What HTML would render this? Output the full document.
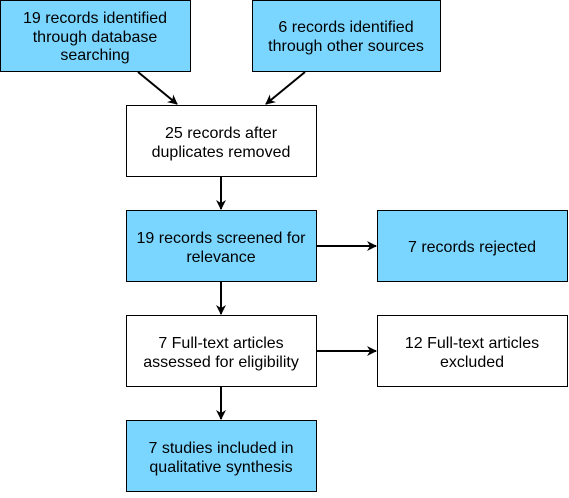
<!DOCTYPE html>
<html><head><style>
body{margin:0;width:569px;height:493px;background:#fff;overflow:hidden}
svg text{font-family:"Liberation Sans",Arial,sans-serif;font-size:16px;fill:#000;text-anchor:middle}
</style></head><body>
<svg width="569" height="493" xmlns="http://www.w3.org/2000/svg">
<defs><marker id="a" markerWidth="10" markerHeight="10" refX="9" refY="5" orient="auto" markerUnits="userSpaceOnUse"><path d="M0,0 L10,5 L0,10 L3,5 z" fill="#000"/></marker></defs>
<g stroke="#000" stroke-width="1">
<rect x="0.5" y="0.5" width="190" height="71" fill="#7ad5ff"/>
<rect x="252.5" y="0.5" width="188" height="71" fill="#7ad5ff"/>
<rect x="126.5" y="105.5" width="190" height="71" fill="#fff"/>
<rect x="126.5" y="210.5" width="190" height="71" fill="#7ad5ff"/>
<rect x="377.5" y="210.5" width="190" height="71" fill="#7ad5ff"/>
<rect x="126.5" y="315.5" width="190" height="71" fill="#fff"/>
<rect x="377.5" y="315.5" width="190" height="71" fill="#fff"/>
<rect x="126.5" y="420.5" width="190" height="71" fill="#7ad5ff"/>
</g>
<g stroke="#000" stroke-width="2" marker-end="url(#a)">
<line x1="138" y1="72" x2="177" y2="104"/>
<line x1="305" y1="72" x2="266" y2="104"/>
<line x1="221" y1="177" x2="221" y2="209"/>
<line x1="221" y1="282" x2="221" y2="314"/>
<line x1="221" y1="387" x2="221" y2="419"/>
<line x1="317" y1="246" x2="376" y2="246"/>
<line x1="317" y1="351" x2="376" y2="351"/>
</g>
<text x="95" y="23">19 records identified</text>
<text x="95" y="42">through database</text>
<text x="95" y="60">searching</text>
<text x="346" y="32">6 records identified</text>
<text x="346" y="51">through other sources</text>
<text x="221" y="138">25 records after</text>
<text x="221" y="157">duplicates removed</text>
<text x="221" y="243">19 records screened for</text>
<text x="221" y="262">relevance</text>
<text x="472" y="252">7 records rejected</text>
<text x="221" y="348">7 Full-text articles</text>
<text x="221" y="367">assessed for eligibility</text>
<text x="472" y="348">12 Full-text articles</text>
<text x="472" y="367">excluded</text>
<text x="221" y="453">7 studies included in</text>
<text x="221" y="472">qualitative synthesis</text>
</svg>
</body></html>
